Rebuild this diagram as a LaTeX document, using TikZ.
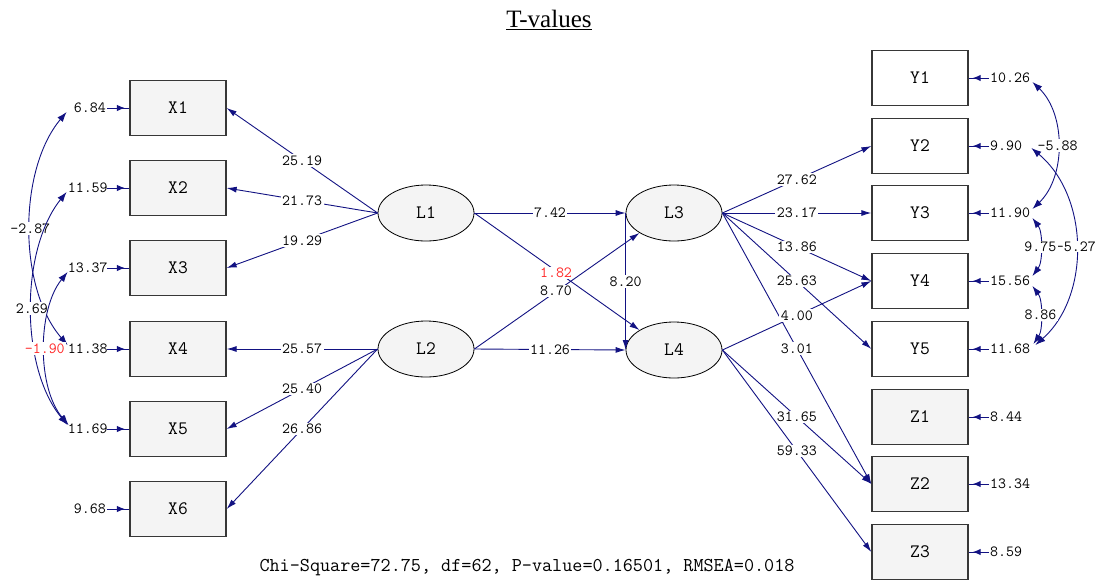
\documentclass[tikz,border=0pt]{standalone}
\usepackage{fontspec}
\setmainfont{Liberation Serif}
\usetikzlibrary{arrows.meta,shapes.geometric,calc,decorations.markings}
\newcommand\lisnum{\ttfamily\fontsize{15.5}{16}\selectfont}
\newcommand\lisname{\ttfamily\fontsize{19}{20}\selectfont}
\definecolor{pathblue}{RGB}{18,18,130}
\definecolor{boxgray}{RGB}{244,244,244}
\definecolor{edgegray}{RGB}{55,55,55}
\definecolor{lowred}{RGB}{255,40,40}
\tikzset{
  obsbox/.style={draw=edgegray, line width=1.3pt, fill=boxgray, minimum width=96pt,
    minimum height=55pt, inner sep=0pt, font=\lisname},
  obswhite/.style={obsbox, fill=white},
  latent/.style={ellipse, draw=black, line width=0.8pt, fill=boxgray, minimum width=96pt,
    minimum height=56pt, inner sep=0pt, font=\lisname},
  loading/.style={draw=pathblue, line width=0.9pt, -{Latex[length=10pt,width=6pt]}},
  coef/.style={fill=white, inner sep=1.5pt, font=\lisnum},
  errlab/.style={font=\lisnum, inner sep=1pt, text width=38pt},
  errpath/.style={draw=pathblue, line width=1pt, postaction={decorate},
    decoration={markings, mark=at position 0.8 with {\arrow{Latex[length=8pt,width=6.5pt]}}}},
  covpath/.style={draw=pathblue, line width=0.9pt,
    {Latex[length=10pt,width=7pt]}-{Latex[length=10pt,width=7pt]}},
}
\begin{document}
\begin{tikzpicture}[x=1pt,y=-1pt]
\useasboundingbox (0,0) rectangle (1097,579);

% title and fit statistics
\node[font=\fontsize{25}{28}\selectfont] (title) at (549,20) {\underline{T-values}};
\node[font=\ttfamily\fontsize{19.6}{20}\selectfont] (fit) at (527,568)
  {Chi-Square=72.75, df=62, P-value=0.16501, RMSEA=0.018};

% observed variables, left
\node[obsbox] (X1) at (178,108) {X1};
\node[obsbox] (X2) at (178,188) {X2};
\node[obsbox] (X3) at (178,268) {X3};
\node[obsbox] (X4) at (178,349) {X4};
\node[obsbox] (X5) at (178,429) {X5};
\node[obsbox] (X6) at (178,509) {X6};

% observed variables, right
\node[obswhite] (Y1) at (920,78) {Y1};
\node[obswhite] (Y2) at (920,146) {Y2};
\node[obswhite] (Y3) at (920,213) {Y3};
\node[obswhite] (Y4) at (920,281) {Y4};
\node[obswhite] (Y5) at (920,349) {Y5};
\node[obsbox] (Z1) at (920,417) {Z1};
\node[obsbox] (Z2) at (920,484) {Z2};
\node[obsbox] (Z3) at (920,552) {Z3};

% latent variables
\node[latent] (L1) at (426,213) {L1};
\node[latent] (L2) at (426,349) {L2};
\node[latent] (L3) at (674,213) {L3};
\node[latent] (L4) at (674,350) {L4};

% error terms, left
\foreach \n/\v/\y in {X1/6.84/108, X2/11.59/188, X3/13.37/268, X4/11.38/349, X5/11.69/429, X6/9.68/509}{
  \node[errlab, align=right, anchor=east] (e\n) at (107,\y) {\v};
  \draw[errpath] (e\n.east) -- (\n.west);
}
% error terms, right
\foreach \n/\v/\y in {Y1/10.26/78, Y2/9.90/146, Y3/11.90/213, Y4/15.56/281, Y5/11.68/349, Z1/8.44/417, Z2/13.34/484, Z3/8.59/552}{
  \node[errlab, align=left, anchor=west] (e\n) at (989,\y) {\v};
  \draw[errpath] (e\n.west) -- (\n.east);
}

% loadings of L1 and L2
\draw[loading] (L1.west) -- node[coef] {25.19} (X1.east);
\draw[loading] (L1.west) -- node[coef] {21.73} (X2.east);
\draw[loading] (L1.west) -- node[coef] {19.29} (X3.east);
\draw[loading] (L2.west) -- node[coef] {25.57} (X4.east);
\draw[loading] (L2.west) -- node[coef] {25.40} (X5.east);
\draw[loading] (L2.west) -- node[coef] {26.86} (X6.east);

% structural paths
\draw[loading] (L1.east) -- node[coef] {7.42} (L3.west);
\draw[loading] (L2.east) -- node[coef] {11.26} (L4.west);
\draw[loading] (L1.east) -- (L4.150);
\draw[loading] (L2.east) -- (L3.210);
\node[coef, text=lowred] (t182) at (556,273) {1.82};
\node[coef] (t870) at (556,291) {8.70};
\draw[loading] (L3.west) -- node[coef] {8.20} (L4.west);

% loadings of L3 and L4
\draw[loading] (L3.east) -- node[coef] {27.62} (Y2.west);
\draw[loading] (L3.east) -- node[coef] {23.17} (Y3.west);
\draw[loading] (L3.east) -- node[coef] {13.86} (Y4.west);
\draw[loading] (L3.east) -- node[coef] {25.63} (Y5.west);
\draw[loading] (L3.east) -- node[coef] {3.01} (Z2.west);
\draw[loading] (L4.east) -- node[coef] {4.00} (Y4.west);
\draw[loading] (L4.east) -- node[coef] {31.65} (Z2.west);
\draw[loading] (L4.east) -- node[coef] {59.33} (Z3.west);

% error covariances, left
\draw[covpath] ($(eX1.west)+(0,4)$) .. controls (18,170) and (18,288) ..
  node[coef, pos=0.5] {-2.87} ($(eX4.west)+(1,-4)$);
\draw[covpath] ($(eX2.west)+(0,4)$) .. controls (20,250) and (20,368) ..
  node[coef, pos=0.5] {2.69} ($(eX5.west)+(1,-4)$);
\draw[covpath] ($(eX3.west)+(1,4)$) .. controls (37,310) and (37,388) ..
  node[coef, pos=0.5, text=lowred] {-1.90} ($(eX5.west)+(2,-4)$);

% error covariances, right
\draw[covpath] ($(eY1.east)+(3,4)$) .. controls (1066,114) and (1066,177) ..
  node[coef, pos=0.5] {-5.88} ($(eY3.east)+(3,-4)$);
\draw[covpath] ($(eY2.east)+(2,2)$) .. controls (1090,197) and (1090,297) ..
  node[coef, pos=0.5, inner sep=0.5pt] {-5.27} ($(eY5.east)+(6,-4)$);
\draw[covpath] ($(eY3.east)+(3,5)$) .. controls (1043,232) and (1043,262) ..
  node[coef, pos=0.5] {9.75} ($(eY4.east)+(3,-5)$);
\draw[covpath] ($(eY4.east)+(3,5)$) .. controls (1043,300) and (1043,330) ..
  node[coef, pos=0.5] {8.86} ($(eY5.east)+(4,-5)$);
\end{tikzpicture}
\end{document}
